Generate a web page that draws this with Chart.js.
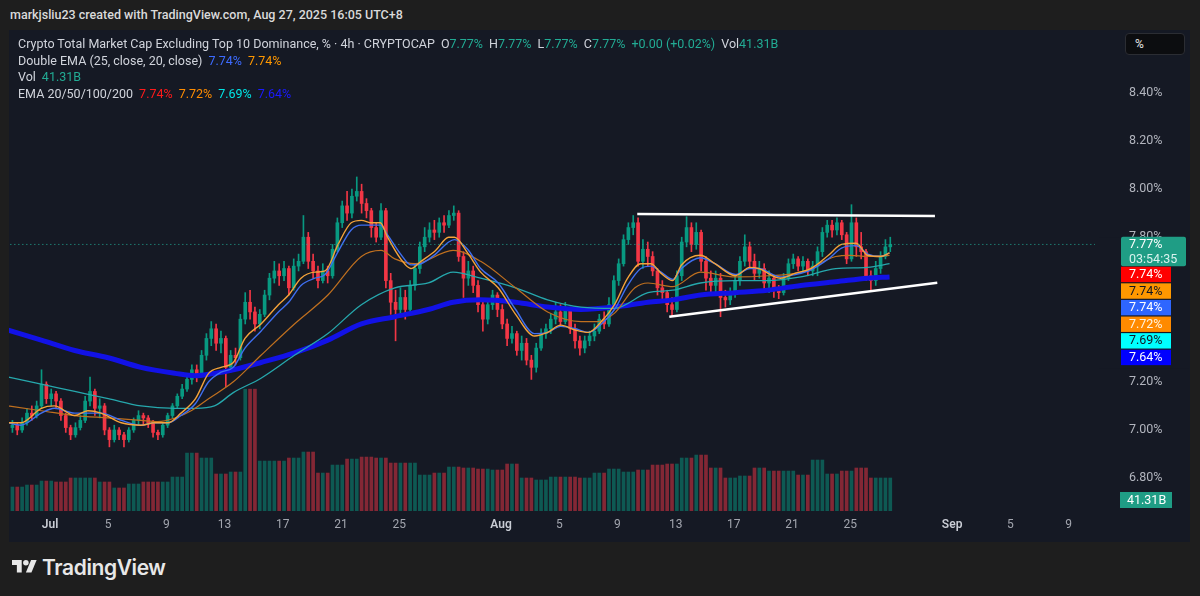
<!DOCTYPE html>
<html>
<head>
<meta charset="utf-8">
<script src="https://cdn.jsdelivr.net/npm/chart.js@4.4.1/dist/chart.umd.min.js"></script>
<style>
html, body { margin: 0; width: 1200px; height: 596px; background: #1e1e1e; overflow: hidden; font-family: Roboto, 'Noto Sans', sans-serif; }
#top { position: absolute; left: 10px; top: 7px; font-size: 12.5px; color: #dadada; font-weight: 500; }
#panel { position: absolute; left: 9px; top: 30px; width: 1181px; height: 512px; background: #151924; }
#chart { position: absolute; left: 0; top: 0; }
#legend { position: absolute; left: 9px; top: 6px; font-size: 12.5px; color: #d1d4dc; line-height: 16.5px; white-space: nowrap; }
#legend .g { color: #22ab94; }
#legend .v { margin-left: 6px; }
#legend .k { margin-left: 6px; }
#pct { position: absolute; left: 1116px; top: 3px; width: 60px; height: 22px; background: #0c0d10; border: 1px solid #2b2d33; border-radius: 4px; color: #e6e6e6; font-size: 12px; line-height: 20px; padding-left: 9px; box-sizing: border-box; }
#brand { position: absolute; left: 12px; top: 556px; height: 22px; display: flex; align-items: center; color: #e8e8e8; }
#brand span { margin-left: 5px; font-family: Inter, Roboto, sans-serif; font-weight: 600; font-size: 21px; letter-spacing: -0.4px; }
</style>
</head>
<body>
<div id="top">markjsliu23 created with TradingView.com, Aug 27, 2025 16:05 UTC+8</div>
<div id="panel">
  <canvas id="chart" width="1181" height="512"></canvas>
  <div id="legend">
    <div>Crypto Total Market Cap Excluding Top 10 Dominance, % · 4h · CRYPTOCAP<span class="k">O</span><span class="g">7.77%</span><span class="k">H</span><span class="g">7.77%</span><span class="k">L</span><span class="g">7.77%</span><span class="k">C</span><span class="g">7.77%</span><span class="g v">+0.00 (+0.02%)</span><span class="k">Vol</span><span class="g">41.31B</span></div>
    <div>Double EMA (25, close, 20, close)<span class="v" style="color:#3d6bff">7.74%</span><span class="v" style="color:#ff9800">7.74%</span></div>
    <div>Vol<span class="g v">41.31B</span></div>
    <div>EMA 20/50/100/200<span class="v" style="color:#ff1a1a">7.74%</span><span class="v" style="color:#ff8c00">7.72%</span><span class="v" style="color:#00e5e5">7.69%</span><span class="v" style="color:#1a1aff">7.64%</span></div>
  </div>
  <div id="pct">%</div>
</div>
<div id="brand">
  <svg width="25" height="20" viewBox="0 0 36 28"><path d="M14 22H7V11H0V4h14v18z" fill="#e8e8e8"/><circle cx="20" cy="8" r="4" fill="#e8e8e8"/><path d="M28 22h-8l7.5-18h8L28 22z" fill="#e8e8e8"/></svg>
  <span>TradingView</span>
</div>
<script>
// time is counted in days from Jul 1 00:00 (UTC+8); bars are 8h
const barStartDay = -8 / 3;
const barStepDays = 1 / 3;
const barsPerVolumeDay = 3;

const opens = [7.01,7.02,7.00,7.03,7.07,7.06,7.10,7.19,7.13,7.15,7.12,7.06,7.01,6.98,7.01,7.04,7.12,7.16,7.09,7.10,
  7.00,6.96,7.00,6.98,6.96,7.00,7.04,7.06,7.05,7.03,6.99,6.98,7.02,7.06,7.10,7.14,7.17,7.21,7.25,7.23,
  7.31,7.38,7.42,7.36,7.38,7.26,7.31,7.30,7.46,7.53,7.49,7.44,7.48,7.56,7.63,7.66,7.64,7.67,7.59,7.68,
  7.70,7.80,7.70,7.66,7.62,7.66,7.64,7.75,7.86,7.93,7.90,7.97,7.99,7.94,7.91,7.84,7.80,7.91,7.62,7.53,
  7.50,7.55,7.50,7.60,7.67,7.76,7.80,7.83,7.82,7.86,7.85,7.89,7.90,7.72,7.63,7.66,7.60,7.52,7.46,7.52,
  7.56,7.50,7.44,7.38,7.40,7.33,7.36,7.29,7.26,7.34,7.40,7.42,7.46,7.49,7.45,7.50,7.42,7.37,7.34,7.37,
  7.39,7.41,7.46,7.44,7.52,7.62,7.69,7.79,7.84,7.86,7.70,7.75,7.72,7.66,7.59,7.57,7.52,7.50,7.64,7.78,
  7.84,7.77,7.82,7.70,7.63,7.60,7.63,7.55,7.54,7.57,7.62,7.70,7.76,7.70,7.65,7.67,7.61,7.63,7.58,7.57,
  7.63,7.69,7.71,7.68,7.70,7.66,7.68,7.74,7.82,7.85,7.83,7.86,7.81,7.71,7.86,7.76,7.74,7.64,7.62,7.67,
  7.72,7.76];
const highs = [7.04,7.03,7.05,7.09,7.10,7.12,7.25,7.20,7.17,7.16,7.13,7.07,7.02,7.03,7.06,7.14,7.22,7.17,7.13,7.11,
  7.01,7.02,7.01,6.99,7.01,7.05,7.08,7.07,7.06,7.04,7.00,7.03,7.07,7.11,7.15,7.19,7.23,7.27,7.27,7.33,
  7.40,7.45,7.44,7.41,7.39,7.33,7.34,7.48,7.57,7.58,7.51,7.50,7.58,7.65,7.70,7.69,7.70,7.68,7.71,7.73,
  7.89,7.82,7.73,7.68,7.69,7.68,7.77,7.88,7.95,7.99,8.00,8.05,8.02,7.96,7.92,7.86,7.94,7.92,7.65,7.58,
  7.59,7.58,7.62,7.69,7.78,7.84,7.86,7.87,7.88,7.89,7.91,7.93,7.91,7.74,7.70,7.68,7.62,7.54,7.54,7.58,
  7.57,7.52,7.46,7.43,7.41,7.39,7.38,7.31,7.36,7.42,7.44,7.48,7.53,7.52,7.53,7.51,7.44,7.39,7.39,7.41,
  7.44,7.48,7.49,7.55,7.64,7.71,7.81,7.86,7.89,7.88,7.79,7.78,7.74,7.67,7.62,7.58,7.55,7.66,7.80,7.885,
  7.86,7.86,7.83,7.72,7.66,7.66,7.65,7.58,7.59,7.64,7.72,7.81,7.78,7.73,7.70,7.69,7.66,7.64,7.60,7.65,
  7.71,7.73,7.72,7.72,7.71,7.70,7.76,7.84,7.87,7.87,7.88,7.87,7.82,7.935,7.88,7.82,7.75,7.66,7.70,7.74,
  7.79,7.80];
const lows = [6.99,6.98,6.99,7.02,7.04,7.05,7.09,7.11,7.10,7.09,7.04,6.99,6.96,6.97,7.00,7.03,7.10,7.06,7.05,6.98,
  6.93,6.95,6.96,6.93,6.95,6.99,7.02,7.02,7.01,6.97,6.96,6.97,7.01,7.05,7.09,7.13,7.16,7.19,7.20,7.22,
  7.29,7.35,7.33,7.32,7.18,7.24,7.27,7.29,7.44,7.46,7.41,7.42,7.47,7.54,7.61,7.60,7.62,7.56,7.58,7.66,
  7.69,7.67,7.63,7.59,7.61,7.61,7.63,7.74,7.84,7.87,7.88,7.95,7.90,7.88,7.80,7.78,7.79,7.59,7.48,7.37,
  7.47,7.46,7.49,7.58,7.65,7.74,7.78,7.79,7.80,7.82,7.84,7.87,7.70,7.55,7.60,7.57,7.49,7.41,7.44,7.50,
  7.47,7.42,7.35,7.36,7.31,7.29,7.27,7.21,7.24,7.33,7.38,7.40,7.44,7.43,7.44,7.40,7.34,7.31,7.32,7.35,
  7.37,7.40,7.42,7.43,7.51,7.60,7.68,7.77,7.81,7.68,7.67,7.68,7.64,7.56,7.54,7.49,7.47,7.49,7.62,7.76,
  7.74,7.75,7.66,7.58,7.56,7.57,7.47,7.51,7.52,7.55,7.60,7.68,7.67,7.62,7.63,7.58,7.57,7.55,7.545,7.56,
  7.62,7.67,7.66,7.66,7.64,7.64,7.64,7.72,7.80,7.80,7.81,7.79,7.69,7.70,7.72,7.71,7.62,7.58,7.60,7.65,
  7.71,7.74];
const closes = [7.02,7.00,7.03,7.07,7.06,7.10,7.19,7.13,7.15,7.12,7.06,7.01,6.98,7.01,7.04,7.12,7.16,7.09,7.10,7.00,
  6.96,7.00,6.98,6.96,7.00,7.04,7.06,7.05,7.03,6.99,6.98,7.02,7.06,7.10,7.14,7.17,7.21,7.25,7.23,7.31,
  7.38,7.42,7.36,7.38,7.26,7.31,7.30,7.46,7.53,7.49,7.44,7.48,7.56,7.63,7.66,7.64,7.67,7.59,7.68,7.70,
  7.80,7.70,7.66,7.62,7.66,7.64,7.75,7.86,7.93,7.90,7.97,7.99,7.94,7.91,7.84,7.80,7.91,7.62,7.53,7.50,
  7.55,7.50,7.60,7.67,7.76,7.80,7.83,7.82,7.86,7.85,7.89,7.90,7.72,7.63,7.66,7.60,7.52,7.46,7.52,7.56,
  7.50,7.44,7.38,7.40,7.33,7.36,7.29,7.26,7.34,7.40,7.42,7.46,7.49,7.45,7.50,7.42,7.37,7.34,7.37,7.39,
  7.41,7.46,7.44,7.52,7.62,7.69,7.79,7.84,7.86,7.70,7.75,7.72,7.66,7.59,7.57,7.52,7.50,7.64,7.78,7.84,
  7.77,7.82,7.70,7.63,7.60,7.63,7.55,7.54,7.57,7.62,7.70,7.76,7.70,7.65,7.67,7.61,7.63,7.58,7.57,7.63,
  7.69,7.71,7.68,7.70,7.66,7.68,7.74,7.82,7.85,7.83,7.86,7.81,7.71,7.86,7.76,7.74,7.64,7.62,7.67,7.72,
  7.76,7.77];

// daily volume, billions (one value per UTC day)
const dailyVolume = [30,32.5,37.5,36.3,41.3,41.3,36.3,28.8,33.8,36.3,36.3,42.5,72.5,66.3,46.3,48.8,152.5,62.5,62.5,66.3,
  73.8,47.5,57.5,65,67.5,66.3,60,60,45,47.5,55,53.8,52.5,51.3,58.8,41.3,38.8,42.5,42.5,41.3,
  47.5,52.5,48.8,51.3,57.5,58.8,66.3,70,53.8,41.3,43.8,53.8,50,50,45,63.8,46.3,50,53.8,41.3,41.31];

// indicator lines
const fastDays = [-2.9,-2.0,-0.6,0.3,1.7,2.6,3.5,4.9,6.25,7.2,8.1,9.0,10.0,10.9,11.75,12.6,13.4,14.5,15.7,16.4,
  17.25,18.2,18.9,19.8,20.7,21.4,22.1,22.7,23.2,24.1,24.8,25.5,26.5,27.4,27.8,28.7,29.6,30.8,32.0,33.3,
  34.2,35.1,36.1,37.0,37.9,38.8,39.7,40.6,41.3,42.0,42.8,43.4,44.7,45.7,47.1,48.1,48.7,50.2,51.2,52.3,
  53.5,54.4,55.4,56.2,57.1,57.7];
const doubleEma20 = [7.03,7.03,7.09,7.10,7.06,7.08,7.07,7.03,7.02,7.03,7.03,7.07,7.13,7.235,7.26,7.28,7.38,7.44,7.52,7.56,
  7.63,7.655,7.66,7.77,7.86,7.87,7.86,7.86,7.80,7.71,7.67,7.70,7.745,7.80,7.80,7.735,7.655,7.59,7.48,7.39,
  7.405,7.435,7.415,7.405,7.45,7.52,7.63,7.69,7.69,7.65,7.62,7.685,7.725,7.69,7.64,7.675,7.67,7.63,7.65,7.67,
  7.725,7.77,7.775,7.725,7.72,7.735];
const doubleEma25 = [7.03,7.02,7.07,7.09,7.07,7.07,7.07,7.04,7.02,7.03,7.03,7.06,7.11,7.20,7.24,7.26,7.34,7.41,7.49,7.53,
  7.60,7.63,7.645,7.74,7.83,7.85,7.85,7.85,7.81,7.73,7.685,7.69,7.73,7.78,7.79,7.75,7.67,7.61,7.50,7.40,
  7.405,7.43,7.42,7.405,7.44,7.50,7.60,7.67,7.68,7.655,7.625,7.67,7.715,7.69,7.645,7.67,7.67,7.635,7.645,7.665,
  7.71,7.755,7.765,7.73,7.72,7.735];
const midDays = [-2.9,-0.6,1.7,4.0,6.25,7.4,8.6,9.7,10.9,12.6,14.5,16.8,19.1,21.4,22.75,23.7,25.1,27.7,29.6,32.0,
  34.2,36.5,37.6,38.8,40.2,41.1,42.8,44.7,47.1,49.35,51.6,54.0,55.0,56.2,57.7];
const ema50 = [7.10,7.08,7.06,7.05,7.04,7.035,7.05,7.08,7.13,7.20,7.31,7.44,7.56,7.72,7.745,7.71,7.69,7.745,7.70,7.59,
  7.49,7.45,7.45,7.485,7.59,7.61,7.595,7.655,7.635,7.64,7.655,7.72,7.725,7.72,7.725];
const slowDays = [-2.9,-0.6,1.7,4.0,6.25,8.6,10.0,11.3,12.6,14.5,16.8,19.1,21.4,23.7,26.0,27.7,29.6,32.0,34.2,36.5,
  38.8,41.1,42.8,44.7,47.1,49.3,51.6,54.0,56.2,57.7];
const ema100 = [7.22,7.19,7.16,7.13,7.10,7.09,7.09,7.10,7.155,7.215,7.31,7.40,7.52,7.59,7.61,7.655,7.63,7.59,7.54,7.51,
  7.505,7.57,7.58,7.61,7.62,7.62,7.635,7.67,7.675,7.69];
const ema200 = [7.415,7.373,7.33,7.30,7.26,7.235,7.225,7.235,7.25,7.28,7.32,7.373,7.44,7.47,7.50,7.53,7.54,7.53,7.51,7.50,
  7.51,7.53,7.54,7.56,7.57,7.58,7.60,7.615,7.63,7.635];

// drawn trendlines [day, price]
const resistanceLine = [[40.36, 7.896], [60.82, 7.888]];
const supportLine = [[42.56, 7.470], [60.98, 7.611]];

const tickDays = [0, 4, 8, 12, 16, 20, 24, 31, 35, 39, 43, 47, 51, 55, 62, 66, 70];
const tickLabels = ['Jul', '5', '9', '13', '17', '21', '25', 'Aug', '5', '9', '13', '17', '21', '25', 'Sep', '5', '9'];
const monthTicks = ['Jul', 'Aug', 'Sep'];
const priceTicks = [6.8, 7.0, 7.2, 7.4, 7.6, 7.8, 8.0, 8.2, 8.4];

const countdown = '03:54:35';
const volumeText = '41.31B';
const tagTexts = ['7.74%', '7.74%', '7.74%', '7.72%', '7.69%', '7.64%'];
const tagColors = [['#ff0000', '#ffffff'], ['#ff9800', '#131722'], ['#2e66ff', '#ffffff'],
                   ['#ff8a00', '#fff4e0'], ['#00ffff', '#131722'], ['#0000ff', '#ffffff']];

const UP = '#089981', DOWN = '#f23645';
const PANEL_BG = '#151924';

function barDay(i) {
    return barStartDay + i * barStepDays + barStepDays / 4;
}
const isUp = closes.map((c, i) => c >= opens[i]);
const toPoints = (xs, ys) => xs.map((x, i) => ({ x: x, y: ys[i] }));
const lastClose = closes[closes.length - 1];

// no extra room for the outer tick labels
function noEdgePadding(s) {
    s.paddingTop = 0;
    s.paddingBottom = 0;
    s.paddingLeft = 0;
    s.paddingRight = 0;
}

const priceTags = {
    id: 'priceTags',
    afterDraw(chart) {
        const ctx = chart.ctx;
        const area = chart.chartArea;
        const y = chart.scales.y;
        const boxLeft = area.right + 26;
        const lastY = y.getPixelForValue(lastClose);
        ctx.save();
        ctx.font = '12.5px Roboto, sans-serif';
        ctx.textBaseline = 'middle';
        ctx.textAlign = 'left';

        const top = lastY - 7.7;
        const step = 16.6;
        const stackTop = top + 30;
        // hide the axis labels that sit under the tags
        ctx.fillStyle = PANEL_BG;
        ctx.fillRect(area.right + 4, top + 1, 90, 29 + tagTexts.length * step + 2);

        ctx.fillStyle = '#1f9d85';
        ctx.beginPath();
        ctx.roundRect(boxLeft, top, 65, 29.5, 2);
        ctx.fill();
        ctx.fillStyle = '#ffffff';
        ctx.fillText(lastClose.toFixed(2) + '%', boxLeft + 8, lastY);
        ctx.fillStyle = '#d8f3ee';
        ctx.fillText(countdown, boxLeft + 8, lastY + 15);

        tagTexts.forEach((t, i) => {
            const ty = stackTop + i * step;
            ctx.fillStyle = tagColors[i][0];
            ctx.fillRect(boxLeft, ty, 50, step - 1.2);
            ctx.fillStyle = tagColors[i][1];
            ctx.fillText(t, boxLeft + 8, ty + (step - 1.2) / 2 + 0.5);
        });

        const vy = area.bottom - 19;
        ctx.fillStyle = '#1f9d85';
        ctx.fillRect(boxLeft - 1, vy, 52, 16);
        ctx.fillStyle = '#ffffff';
        ctx.fillText(volumeText, boxLeft + 6, vy + 8.5);
        ctx.restore();
    }
};

const ctx = document.getElementById('chart').getContext('2d');
new Chart(ctx, {
    type: 'bar',
    data: {
        datasets: [
            {
                label: 'Vol',
                yAxisID: 'vol',
                data: closes.map((c, i) => ({ x: barDay(i), y: dailyVolume[Math.floor(i / barsPerVolumeDay)] })),
                backgroundColor: isUp.map(u => u ? 'rgba(8,153,129,0.5)' : 'rgba(242,54,69,0.5)'),
                barThickness: 3,
                grouped: false,
                order: 20
            },
            {
                label: 'wicks',
                data: closes.map((c, i) => ({ x: barDay(i), y: [lows[i], highs[i]] })),
                backgroundColor: isUp.map(u => u ? UP : DOWN),
                barThickness: 1,
                grouped: false,
                order: 11
            },
            {
                label: 'bodies',
                data: closes.map((c, i) => ({ x: barDay(i), y: [opens[i], c] })),
                backgroundColor: isUp.map(u => u ? UP : DOWN),
                barThickness: 3,
                minBarLength: 1,
                grouped: false,
                order: 10
            },
            {
                type: 'line', label: 'EMA 200',
                data: toPoints(slowDays, ema200),
                borderColor: '#1212e6', borderWidth: 5,
                pointRadius: 0, cubicInterpolationMode: 'monotone', order: 6
            },
            {
                type: 'line', label: 'EMA 100',
                data: toPoints(slowDays, ema100),
                borderColor: '#26a8ad', borderWidth: 1.3,
                pointRadius: 0, cubicInterpolationMode: 'monotone', order: 5
            },
            {
                type: 'line', label: 'EMA 50',
                data: toPoints(midDays, ema50),
                borderColor: '#c0701f', borderWidth: 1.2,
                pointRadius: 0, cubicInterpolationMode: 'monotone', order: 4
            },
            {
                type: 'line', label: 'Double EMA 25',
                data: toPoints(fastDays, doubleEma25),
                borderColor: '#3f6ff0', borderWidth: 1.4,
                pointRadius: 0, cubicInterpolationMode: 'monotone', order: 3
            },
            {
                type: 'line', label: 'Double EMA 20',
                data: toPoints(fastDays, doubleEma20),
                borderColor: '#f5a33a', borderWidth: 1.4,
                pointRadius: 0, cubicInterpolationMode: 'monotone', order: 2
            },
            {
                type: 'line', label: 'last',
                data: [{ x: -3, y: lastClose }, { x: 72, y: lastClose }],
                borderColor: '#22ab94', borderWidth: 1, borderDash: [1, 3],
                pointRadius: 0, order: 1
            },
            {
                type: 'line', label: 'resistance',
                data: resistanceLine.map(p => ({ x: p[0], y: p[1] })),
                borderColor: '#ffffff', borderWidth: 2.5, pointRadius: 0, order: 0
            },
            {
                type: 'line', label: 'support',
                data: supportLine.map(p => ({ x: p[0], y: p[1] })),
                borderColor: '#ffffff', borderWidth: 2.5, pointRadius: 0, order: 0
            }
        ]
    },
    options: {
        responsive: false,
        animation: false,
        layout: { padding: 0, autoPadding: false },
        plugins: {
            legend: { display: false },
            tooltip: { enabled: false }
        },
        scales: {
            x: {
                type: 'linear',
                offset: false,
                min: -2.818,
                max: 71.82,
                grid: { display: false, drawTicks: false },
                border: { display: false },
                afterBuildTicks: s => { s.ticks = tickDays.map(v => ({ value: v })); },
                afterFit: s => { s.height = 31; noEdgePadding(s); },
                ticks: {
                    autoSkip: false,
                    maxRotation: 0,
                    padding: 7,
                    color: c => monthTicks.includes(tickLabels[c.index]) ? '#c9ccd4' : '#a3a6af',
                    font: c => ({ family: 'Roboto', size: 12, weight: monthTicks.includes(tickLabels[c.index]) ? '600' : '400' }),
                    callback: (v, i) => tickLabels[i]
                }
            },
            y: {
                type: 'linear',
                position: 'right',
                min: 6.6639,
                max: 8.6598,
                grid: { display: false, drawTicks: false },
                border: { display: false },
                afterBuildTicks: s => { s.ticks = priceTicks.map(v => ({ value: v })); },
                afterFit: s => { s.width = 95; noEdgePadding(s); },
                ticks: {
                    padding: 34,
                    crossAlign: 'near',
                    color: '#b2b5be',
                    font: { family: 'Roboto', size: 12.5 },
                    callback: v => v.toFixed(2) + '%'
                }
            },
            vol: {
                axis: 'y',
                type: 'linear',
                display: false,
                min: 0,
                max: 602
            }
        }
    },
    plugins: [priceTags]
});
</script>
</body>
</html>
